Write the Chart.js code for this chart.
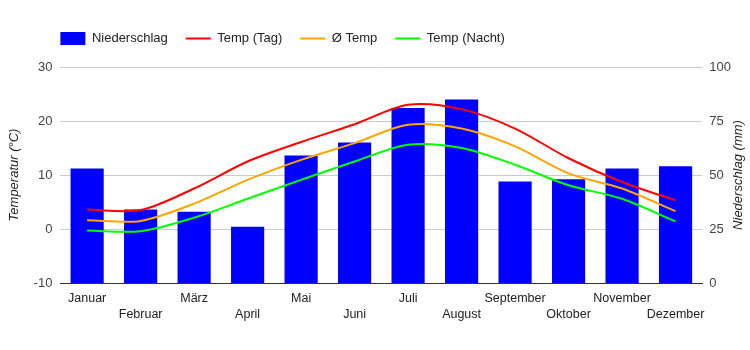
<!DOCTYPE html>
<html>
<head>
<meta charset="utf-8">
<script src="https://cdn.jsdelivr.net/npm/chart.js@4/dist/chart.umd.min.js"></script>
<style>
body{margin:0;background:#fff;}
#wrap{width:750px;height:350px;}
</style>
</head>
<body>
<div id="wrap"><canvas id="c" width="750" height="350"></canvas></div>
<script>
let monate=["Januar","Februar","März","April","Mai","Juni","Juli","August","September","Oktober","November","Dezember"];
let niederschlag=[53,34,33,26,59,65,81,85,47,48,53,54];
let tempTag=[3.6,3.5,7.5,12.5,16.1,19.4,23.0,22.2,18.6,13.1,8.7,5.3];
let tempMittel=[1.6,1.5,4.7,9.1,12.8,15.9,19.3,18.6,15.3,10.3,7.5,3.3];
let tempNacht=[-0.3,-0.4,2.1,5.6,9.1,12.5,15.6,15.0,11.9,8.1,5.6,1.4];
let tempTicks=[-10,0,10,20,30];
let mmTicks=[0,25,50,75,100];

const FONT="'Liberation Sans', Arial, sans-serif";

/* legend verschieben + platz darunter, rechter titel */
const tweaks={
id:"tweaks",
beforeLayout(chart){
let lg=chart.legend;
if(lg && !lg._patched){
let proto=Object.getPrototypeOf(lg);
lg.fit=function(){proto.fit.call(this);this.height+=12;};
lg._patched=true;
}
},
afterLayout(chart){
let lg=chart.legend;
let pad=chart.options.plugins.legend.labels.padding;
let w=lg.right-lg.left;
lg.left=chart.chartArea.left-pad;
lg.right=lg.left+w;
},
afterDraw(chart){
let ctx=chart.ctx;
let a=chart.chartArea;
ctx.save();
ctx.translate(738,(a.top+a.bottom)/2);
ctx.rotate(-Math.PI/2);
ctx.font="italic 13px "+FONT;
ctx.fillStyle="#222";
ctx.textAlign="center";
ctx.textBaseline="middle";
ctx.fillText("Niederschlag (mm)",0,0);
ctx.restore();
}
};

function lineDs(label,data,color){
return {
type:"line",
label:label,
data:data,
borderColor:color,
backgroundColor:color,
borderWidth:2,
pointRadius:0,
tension:0.3,
yAxisID:"y",
order:0
};
}

new Chart(document.getElementById("c"),{
type:"bar",
data:{
labels:monate,
datasets:[
{
type:"bar",
label:"Niederschlag",
data:niederschlag,
backgroundColor:"#0000ff",
borderWidth:0,
barPercentage:0.62,
categoryPercentage:1,
yAxisID:"y1",
order:1
},
lineDs("Temp (Tag)",tempTag,"#ff0000"),
lineDs("Ø Temp",tempMittel,"#ffa500"),
lineDs("Temp (Nacht)",tempNacht,"#00ff00")
]
},
options:{
responsive:false,
devicePixelRatio:1,
animation:false,
layout:{padding:{top:14,left:7,right:12,bottom:20}},
plugins:{
tooltip:{enabled:false},
legend:{
position:"top",
align:"start",
labels:{
font:{family:FONT,size:13},
color:"#222",
padding:18,
usePointStyle:true,
pointStyleWidth:25,
boxHeight:13,
generateLabels(chart){
return chart.data.datasets.map((d,i)=>({
text:d.label,
datasetIndex:i,
fillStyle:d.type==="bar"?d.backgroundColor:d.borderColor,
strokeStyle:d.type==="bar"?d.backgroundColor:d.borderColor,
lineWidth:d.type==="bar"?0:2,
pointStyle:d.type==="bar"?"rect":"line",
fontColor:"#222",
hidden:false
}));
}
}
}
},
scales:{
x:{
grid:{display:false,drawTicks:false},
border:{color:"#333",width:1},
ticks:{
autoSkip:false,
maxRotation:0,
padding:7,
color:"#222",
font:{family:FONT,size:12.5,lineHeight:1.32},
callback(v,i){
return i%2===0?[monate[i],""]:["",monate[i]];
}
}
},
y:{
position:"left",
min:-10,max:30,
afterBuildTicks(ax){ax.ticks=tempTicks.map(v=>({value:v}));},
grid:{color:"#cccccc",drawTicks:false},
border:{display:false},
ticks:{color:"#444",font:{family:FONT,size:13},padding:8},
title:{display:true,text:"Temperatur (°C)",color:"#222",font:{family:FONT,size:13,style:"italic"},padding:{top:0,bottom:3}}
},
y1:{
position:"right",
min:0,max:100,
afterBuildTicks(ax){ax.ticks=mmTicks.map(v=>({value:v}));},
grid:{display:false,drawTicks:false},
border:{display:false},
ticks:{color:"#444",font:{family:FONT,size:13},padding:7}
}
}
},
plugins:[tweaks]
});
</script>
</body>
</html>
